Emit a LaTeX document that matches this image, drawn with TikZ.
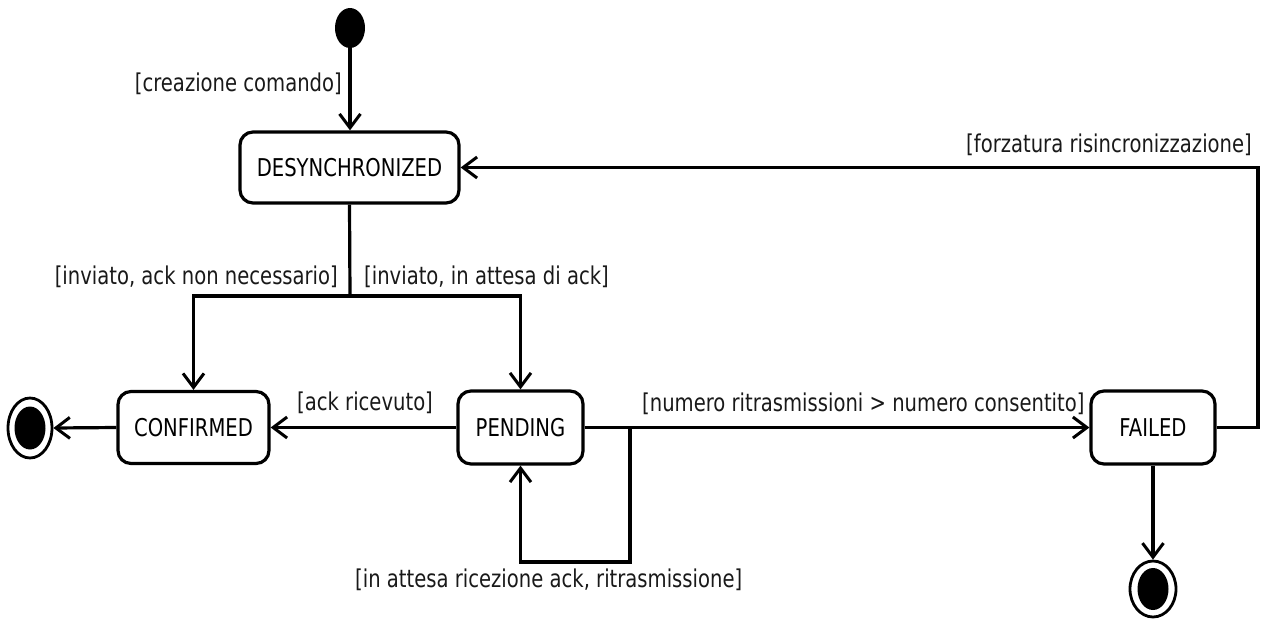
\documentclass[tikz,border=0pt]{standalone}
\usepackage{fontspec}
\setmainfont{DejaVu Sans}[FakeStretch=0.8]
\usetikzlibrary{arrows.meta,shapes.geometric}
\begin{document}
\begin{tikzpicture}[x=1pt,y=-1pt,
  font=\fontsize{24.5}{28}\selectfont,
  statebox/.style={draw, line width=3.2pt, rectangle, rounded corners=13pt, inner sep=0pt},
  startdot/.style={ellipse, fill=black, inner sep=0pt, minimum width=30pt, minimum height=40pt},
  endring/.style={ellipse, draw, line width=2.8pt, inner sep=0pt},
  enddot/.style={ellipse, fill=black, inner sep=0pt},
  flow/.style={line width=3.2pt, -{Straight Barb[length=14pt,width=21pt,line width=3pt]}},
  link/.style={line width=3.2pt},
  guard/.style={inner sep=0pt, text=black!90}]
\useasboundingbox (0,0) rectangle (1261,619);

% states
\node[startdot] (init) at (350,28) {};
\node[statebox, minimum width=219pt, minimum height=71pt] (desync) at (349.5,167.5) {DESYNCHRONIZED};
\node[statebox, minimum width=151pt, minimum height=72pt] (confirmed) at (193.5,427.5) {CONFIRMED};
\node[statebox, minimum width=125pt, minimum height=73pt] (pending) at (520.5,427.5) {PENDING};
\node[statebox, minimum width=124pt, minimum height=73pt] (failed) at (1153,427.5) {FAILED};

% final states
\node[endring, minimum width=44pt, minimum height=60pt] (endA) at (30,428) {};
\node[enddot, minimum width=31pt, minimum height=43pt] (endAdot) at (30,428) {};
\node[endring, minimum width=46pt, minimum height=56pt] (endB) at (1153,589) {};
\node[enddot, minimum width=31pt, minimum height=42pt] (endBdot) at (1153,589) {};

% routing points
\coordinate (split) at (350,296);
\coordinate (loopA) at (630,427.5);
\coordinate (loopB) at (630,562);
\coordinate (backX) at (1258,0);

% transitions
\draw[flow] (init.south) -- (init.south |- desync.north);
\draw[link] (desync.south) -- (split);
\draw[flow] (split) -| (confirmed.north);
\draw[flow] (split) -| (pending.north);
\draw[flow] (pending.west) -- (confirmed.east);
\draw[flow] (confirmed.west) -- (endA.east);
\draw[flow] (pending.east) -- (failed.west);
\draw[flow] (loopA) -- (loopB) -| (pending.south);
\draw[flow] (failed.south) -- (endB.north);
\draw[flow] (failed.east) -| (backX |- desync.east) -- (desync.east);

% guards
\node[guard, anchor=base east] (gCreate) at (342,91) {[creazione comando]};
\node[guard, anchor=base east] (gForce) at (1252,152) {[forzatura risincronizzazione]};
\node[guard, anchor=base east] (gNoAck) at (338,284) {[inviato, ack non necessario]};
\node[guard, anchor=base west] (gWait) at (364,284) {[inviato, in attesa di ack]};
\node[guard, anchor=base west] (gAck) at (297,410) {[ack ricevuto]};
\node[guard, anchor=base west] (gRetry) at (642,411) {[numero ritrasmissioni > numero consentito]};
\node[guard, anchor=base west] (gLoop) at (355,587) {[in attesa ricezione ack, ritrasmissione]};
\end{tikzpicture}
\end{document}
